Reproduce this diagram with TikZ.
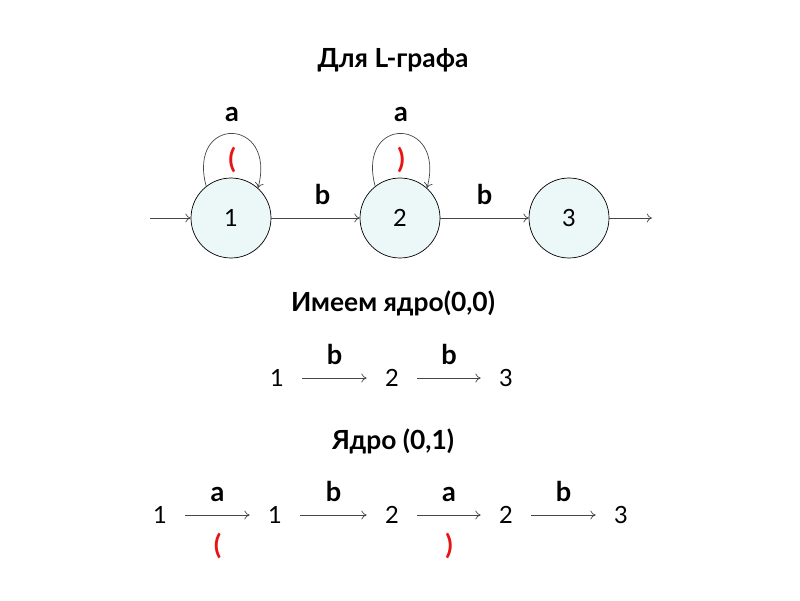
\documentclass[tikz,border=0pt]{standalone}
\usepackage{fontspec}
\setmainfont{Lato}
\usetikzlibrary{arrows.meta}
\definecolor{statefill}{RGB}{235,248,247}
\definecolor{linegray}{RGB}{70,70,70}
\definecolor{parred}{RGB}{230,20,20}
\begin{document}
\begin{tikzpicture}
          [x=0.02cm,y=0.02cm,>={To[length=3pt,width=5pt]},
           state/.style={draw, circle, fill=statefill, inner sep = 0pt, minimum size = 1.6cm, font=\fontsize{13.5}{15}\selectfont},
           seq/.style={inner sep = 0pt, minimum width = 1cm, font=\fontsize{13.5}{15}\selectfont},
           lbl/.style={font=\fontsize{15.5}{17}\selectfont\bfseries},
           par/.style={text=parred, font=\fontsize{15.5}{17}\selectfont\bfseries},
           ttl/.style={font=\fontsize{15}{17}\selectfont\bfseries},
           arr/.style={->, draw=linegray, thin}]
        \useasboundingbox (0,0) rectangle (800,600);

        % L-graph
        \node[ttl] (t1) at (393,540) {Для L-графа};
        \node[state] (n1) at (231,382) {1};
        \node[state] (n2) at (400,382) {2};
        \node[state] (n3) at (569,382) {3};
        \coordinate (in) at (150,382);
        \coordinate (out) at (652,382);

        \draw[arr] (in) -- (n1);
        \draw[arr] (n1) -- node[lbl, above=4pt, xshift=4pt] {b} (n2);
        \draw[arr] (n2) -- node[lbl, above=4pt] {b} (n3);
        \draw[arr] (n3) -- (out);

        \draw[arr] (n1.128) .. controls +(105:74) and +(75:74) .. (n1.48)
          node[lbl, pos=0.5, above=3pt] {a} node[par, pos=0.5, below=4pt] {(};
        \draw[arr] (n2.128) .. controls +(105:74) and +(75:74) .. (n2.48)
          node[lbl, pos=0.5, above=3pt] {a} node[par, pos=0.5, below=4pt] {)};

        % kernel (0,0)
        \node[ttl] (t2) at (393,297) {Имеем ядро(0,0)};
        \node[seq] (k1) at (277,222) {1};
        \node[seq] (k2) at (392,222) {2};
        \node[seq] (k3) at (506,222) {3};

        \foreach \from/\to in {k1/k2, k2/k3}
          \draw[arr] (\from) -- node[lbl, above=4pt] {b} (\to);

        % kernel (0,1)
        \node[ttl] (t3) at (393,159) {Ядро (0,1)};
        \node[seq] (m1) at (160,85) {1};
        \node[seq] (m2) at (275,85) {1};
        \node[seq] (m3) at (392,85) {2};
        \node[seq] (m4) at (506,85) {2};
        \node[seq] (m5) at (621,85) {3};

        \draw[arr] (m1) -- node[lbl, above=4pt] {a} node[par, below=7pt] {(} (m2);
        \draw[arr] (m2) -- node[lbl, above=4pt] {b} (m3);
        \draw[arr] (m3) -- node[lbl, above=4pt] {a} node[par, below=7pt] {)} (m4);
        \draw[arr] (m4) -- node[lbl, above=4pt] {b} (m5);
      \end{tikzpicture}
\end{document}
